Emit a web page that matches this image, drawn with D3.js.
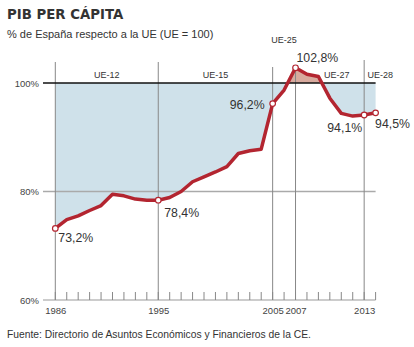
<!DOCTYPE html>
<html>
<head>
<meta charset="utf-8">
<script src="https://cdn.jsdelivr.net/npm/d3@7"></script>
<style>
  body { margin: 0; background: #fff; }
  text { font-family: "Liberation Sans", Arial, sans-serif; }
</style>
</head>
<body>
<div id="canvas"></div>
<script>
const years = d3.range(1986, 2015);
const pib = [73.2, 74.8, 75.5, 76.5, 77.4, 79.5, 79.2, 78.6, 78.4, 78.4,
             78.9, 80.0, 81.8, 82.7, 83.6, 84.6, 87.0, 87.5, 87.8, 96.2,
             98.7, 102.8, 101.6, 101.2, 97.2, 94.4, 93.9, 94.1, 94.5];
const yTicks = [60, 80, 100];
const xTicks = [1986, 1995, 2005, 2007, 2013];
const markedYears = [1986, 1995, 2005, 2007, 2013, 2014];
const valueLabels = ["73,2%", "78,4%", "96,2%", "102,8%", "94,1%", "94,5%"];
const periods = ["UE-12", "UE-15", "UE-25", "UE-27", "UE-28"];

const data = years.map((y, i) => ({ year: y, v: pib[i] }));

const W = 414, H = 347;
const svg = d3.select('#canvas').append("svg")
    .attr("width", W)
    .attr("height", H);

const x = d3.scaleLinear().domain([1986, 2014]).range([55.3, 375.6]);
const y = d3.scaleLinear().domain([60, 100]).range([300, 83]);

// title
svg.append("text")
    .attr("x", 7).attr("y", 19)
    .style("font-family", "'DejaVu Sans', sans-serif")
    .style("font-weight", "bold")
    .style("font-size", "13.3px")
    .attr("fill", "#333")
    .text("PIB PER CÁPITA");
svg.append("text")
    .attr("x", 7).attr("y", 38)
    .style("font-size", "11px")
    .attr("fill", "#333")
    .text("% de España respecto a la UE (UE = 100)");

// clip paths for above / below 100
const defs = svg.append("defs");
defs.append("clipPath").attr("id", "below")
  .append("rect").attr("x", 0).attr("y", y(100)).attr("width", W).attr("height", H);
defs.append("clipPath").attr("id", "above")
  .append("rect").attr("x", 0).attr("y", 0).attr("width", W).attr("height", y(100));

const area = d3.area()
    .x(d => x(d.year))
    .y0(y(100))
    .y1(d => y(d.v));

svg.append("path").datum(data)
    .attr("clip-path", "url(#below)")
    .attr("fill", "#cfe1ea")
    .attr("d", area);
svg.append("path").datum(data)
    .attr("clip-path", "url(#above)")
    .attr("fill", "#d8aa9e")
    .attr("d", area);

// gridlines
svg.append("line")
    .attr("x1", 43).attr("x2", x(2014))
    .attr("y1", y(80)).attr("y2", y(80))
    .attr("stroke", "#aaa").attr("stroke-width", 1.5);
svg.append("line")
    .attr("x1", 43).attr("x2", x(2014))
    .attr("y1", y(60)).attr("y2", y(60))
    .attr("stroke", "#999").attr("stroke-width", 1.2);

// vertical period lines
const vTop = { 1986: 62, 1995: 62, 2005: 67, 2007: y(102.8), 2013: 60 };
svg.selectAll(".vline").data(xTicks).enter().append("line")
    .attr("class", "vline")
    .attr("x1", d => x(d)).attr("x2", d => x(d))
    .attr("y1", d => vTop[d]).attr("y2", y(60))
    .attr("stroke", "#888").attr("stroke-width", 1);

// minor year ticks
svg.selectAll(".minor").data(years).enter().append("line")
    .attr("class", "minor")
    .attr("x1", d => x(d)).attr("x2", d => x(d))
    .attr("y1", y(60) - 8).attr("y2", y(60))
    .attr("stroke", "#888").attr("stroke-width", 1);

svg.append("line")
    .attr("x1", 43).attr("x2", x(2014))
    .attr("y1", y(100)).attr("y2", y(100))
    .attr("stroke", "#111").attr("stroke-width", 1.3);

// axes
const yAxis = svg.append("g")
    .attr("transform", "translate(39,0)")
    .call(d3.axisLeft(y).tickValues(yTicks).tickSize(0).tickPadding(0).tickFormat(d => d + "%"));
yAxis.select(".domain").remove();
yAxis.selectAll("text").style("font-size", "9.5px").attr("fill", "#444")
    .style("font-family", "'Liberation Sans', Arial, sans-serif");

const xAxis = svg.append("g")
    .attr("transform", `translate(0, ${y(60)})`)
    .call(d3.axisBottom(x).tickValues(xTicks).tickSize(0).tickPadding(7).tickFormat(d3.format("d")));
xAxis.select(".domain").remove();
xAxis.selectAll("text").style("font-size", "9.5px").attr("fill", "#444")
    .style("font-family", "'Liberation Sans', Arial, sans-serif");

// period labels
const periodPos = [
    { x: (1986 + 1995) / 2, y: 78, a: "middle" },
    { x: (1995 + 2005) / 2, y: 78, a: "middle" },
    { x: 2006, y: 43, a: "middle" },
    { x: 2010.6, y: 78, a: "middle" },
    { x: 2013.3, y: 78, a: "start" }
];
svg.selectAll(".period").data(periods).enter().append("text")
    .attr("class", "period")
    .attr("x", (d, i) => x(periodPos[i].x))
    .attr("y", (d, i) => periodPos[i].y)
    .attr("text-anchor", (d, i) => periodPos[i].a)
    .style("font-size", "9px")
    .attr("fill", "#333")
    .text(d => d);

// line
const line = d3.line().x(d => x(d.year)).y(d => y(d.v));
svg.append("path").datum(data)
    .attr("fill", "none")
    .attr("stroke", "#b32530")
    .attr("stroke-width", 3.5)
    .attr("stroke-linejoin", "round")
    .attr("d", line);

const marked = data.filter(d => markedYears.includes(d.year));
svg.selectAll(".dot").data(marked).enter().append("circle")
    .attr("cx", d => x(d.year)).attr("cy", d => y(d.v))
    .attr("r", 2.8)
    .attr("fill", "#fff")
    .attr("stroke", "#b32530")
    .attr("stroke-width", 1.2);

// value labels
const labelOff = [
    { dx: 3, dy: 14, a: "start" },
    { dx: 6, dy: 17, a: "start" },
    { dx: -8, dy: 5, a: "end" },
    { dx: 1, dy: -6, a: "start" },
    { dx: -2, dy: 17, a: "end" },
    { dx: -0.5, dy: 15, a: "start" }
];
svg.selectAll(".vlabel").data(marked).enter().append("text")
    .attr("class", "vlabel")
    .attr("x", (d, i) => x(d.year) + labelOff[i].dx)
    .attr("y", (d, i) => y(d.v) + labelOff[i].dy)
    .attr("text-anchor", (d, i) => labelOff[i].a)
    .style("font-size", "12.3px")
    .attr("fill", "#333")
    .text((d, i) => valueLabels[i]);

// source
svg.append("text")
    .attr("x", 7).attr("y", 338)
    .style("font-size", "10.3px")
    .attr("fill", "#333")
    .text("Fuente: Directorio de Asuntos Económicos y Financieros de la CE.");
</script>
</body>
</html>
